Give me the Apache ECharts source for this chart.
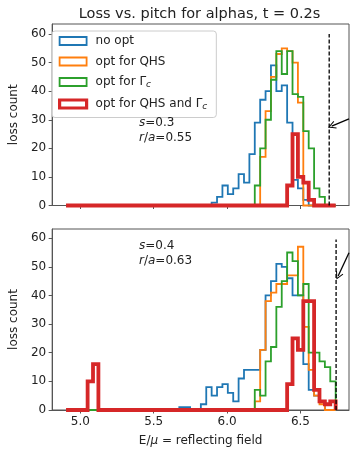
<!DOCTYPE html>
<html><head><meta charset="utf-8">
<script src="https://cdn.jsdelivr.net/npm/echarts@6/dist/echarts.min.js"></script>
<style>html,body{margin:0;padding:0;background:#fff}#c{width:350px;height:449px}</style>
</head><body><div id="c"></div>
<script>
// ---- data ----
const binStart = 4.9026;      // left edge of first histogram bin
const binWidth = 0.03675;     // histogram bin width (50 bins)
const xTicks = [5.0, 5.5, 6.0, 6.5];
const yTicks = [0, 10, 20, 30, 40, 50, 60];
const seriesNames = ['no opt', 'opt for QHS', 'opt for Γc', 'opt for QHS and Γc'];
const panelLabels = [['0.3', '0.55'], ['0.4', '0.63']];

// top panel (s=0.3) counts per bin
const blueTop   = [0,0,0,0,0,0,0,0,0,0, 0,0,0,0,0,0,0,0,0,0, 0,0,0,0,0,0,0,1,3,7, 4,6,11,8,18,29,37,40,49,40, 42,29,9,6,2,0,0,0,0,0];
const orangeTop = [0,0,0,0,0,0,0,0,0,0, 0,0,0,0,0,0,0,0,0,0, 0,0,0,0,0,0,0,0,0,0, 0,0,0,0,0,0,17,33,45,53, 55,54,50,36,0,0,0,0,0,0];
const greenTop  = [0,0,0,0,0,0,0,0,0,0, 0,0,0,0,0,0,0,0,0,0, 0,0,0,0,0,0,0,0,0,0, 0,0,0,0,0,7,20,30,44,54, 46,54,39,38,26,20,6,3,0,0];
const redTop    = [0,0,0,0,0,0,0,0,0,0, 0,0,0,0,0,0,0,0,0,0, 0,0,0,0,0,0,0,0,0,0, 0,0,0,0,0,0,0,0,0,0, 0,7,25,10,8,2,0,0,0,0];

// bottom panel (s=0.4) counts per bin
const blueBot   = [0,0,0,0,0,0,0,0,0,0, 0,0,0,0,0,0,0,0,0,0, 0,1,1,0,0,2,8,5,8,9, 6,3,11,14,14,14,21,40,45,51, 50,46,40,40,16,7,5,3,0,0];
const orangeBot = [0,0,0,0,0,0,0,0,0,0, 0,0,0,0,0,0,0,0,0,0, 0,0,0,0,0,0,0,0,0,0, 0,0,0,0,0,3,21,38,41,44, 44,47,47,57,29,14,5,2,0,0];
const greenBot  = [0,0,0,0,0,0,0,0,0,0, 0,0,0,0,0,0,0,0,0,0, 0,0,0,0,0,0,0,0,0,0, 0,0,0,0,0,7,5,17,22,36, 45,55,52,40,44,20,20,17,15,10];
const redBot    = [0,0,0,0,10,16,0,0,0,0, 0,0,0,0,0,0,0,0,0,0, 0,0,0,0,0,0,0,0,0,0, 0,0,0,0,0,0,0,0,0,0, 0,9,25,21,38,38,7,3,2,3];

// reflecting-field markers and annotation arrows (data coords)
const dashX = [6.696, 6.743];
const dashTop = [60, 59.5];
const arrowTop = [[6.831, 30.3], [6.713, 27.8]];
const arrowBot = [[6.831, 54.9], [6.757, 46.8]];

// ---- styling ----
const FONT = 'DejaVu Sans';
const colors = ['#1f77b4', '#ff7f0e', '#2ca02c', '#d62728'];
const widths = [1.8, 1.8, 1.8, 3.8];
const SPINE = '#555';
const TXT = '#222';
const xMin = 4.808, xMax = 6.831;

function stepPoints(counts) {
  const pts = [[binStart, 0]];
  counts.forEach((c, k) => {
    const x0 = binStart + k * binWidth;
    pts.push([x0, c], [x0 + binWidth, c]);
  });
  pts.push([binStart + counts.length * binWidth, 0]);
  return pts;
}

const chart = echarts.init(document.getElementById('c'), null, {renderer: 'canvas'});

const grids = [
  {left: 49, top: 24, width: 300, height: 181.5, show: true, borderColor: SPINE, borderWidth: 1, backgroundColor: 'transparent'},
  {left: 49, top: 229, width: 300, height: 181, show: true, borderColor: SPINE, borderWidth: 1, backgroundColor: 'transparent'}
];

function xAxis(i, labels) {
  return {
    type: 'value', gridIndex: i, min: xMin, max: xMax,
    axisLine: {show: true, onZero: false, lineStyle: {color: SPINE, width: 1}},
    axisTick: {show: true, length: 3.5, customValues: xTicks, lineStyle: {color: SPINE}},
    axisLabel: {show: labels, customValues: xTicks, formatter: v => v.toFixed(1), margin: 6,
                fontSize: 12, color: TXT, fontFamily: FONT},
    splitLine: {show: false},
    name: labels ? 'E/{i|μ} = reflecting field' : '',
    nameLocation: 'middle', nameGap: 25,
    nameTextStyle: {fontSize: 12, color: TXT, fontFamily: FONT,
                    rich: {i: {fontStyle: 'italic', fontSize: 12, color: TXT, fontFamily: FONT}}}
  };
}
function yAxis(i, max) {
  return {
    type: 'value', gridIndex: i, min: 0, max: max,
    axisLine: {show: true, lineStyle: {color: SPINE, width: 1}},
    axisTick: {show: true, length: 3.5, customValues: yTicks, lineStyle: {color: SPINE}},
    axisLabel: {customValues: yTicks, margin: 6, fontSize: 12, color: TXT, fontFamily: FONT},
    splitLine: {show: false},
    name: 'loss count', nameLocation: 'middle', nameRotate: 90, nameGap: 28,
    nameTextStyle: {fontSize: 12, color: TXT, fontFamily: FONT}
  };
}

const panels = [[blueTop, orangeTop, greenTop, redTop], [blueBot, orangeBot, greenBot, redBot]];
const series = [];
panels.forEach((set, p) => {
  set.forEach((counts, s) => {
    series.push({
      type: 'line', name: seriesNames[s], xAxisIndex: p, yAxisIndex: p,
      data: stepPoints(counts), showSymbol: false, symbol: 'none', clip: false,
      lineStyle: {color: colors[s], width: widths[s], join: 'miter'},
      itemStyle: {color: colors[s]}, z: 2 + s, silent: true, animation: false
    });
  });
  series.push({
    type: 'line', xAxisIndex: p, yAxisIndex: p,
    data: [[dashX[p], 0], [dashX[p], dashTop[p]]], showSymbol: false, symbol: 'none', clip: false,
    lineStyle: {color: '#000', width: 1.3, type: [4, 2]}, z: 8, silent: true, animation: false
  });
});
const chevron = 'path://M0,10 L5,0 L10,10 L8.9,10.6 L5,2.6 L1.1,10.6 Z';
[arrowTop, arrowBot].forEach((a, p) => {
  series.push({
    type: 'lines', coordinateSystem: 'cartesian2d', xAxisIndex: p, yAxisIndex: p,
    data: [{coords: a}], symbol: ['none', chevron], symbolSize: [9, 8],
    lineStyle: {color: '#000', width: 1.3, opacity: 1, curveness: 0},
    itemStyle: {color: '#000'}, z: 9, silent: true, animation: false
  });
});

const legendRich = {
  t: {fontSize: 12, color: TXT, fontFamily: FONT, lineHeight: 15, padding: [0, 0, 0, 4]},
  s: {fontSize: 9, color: TXT, fontFamily: FONT, fontStyle: 'italic', verticalAlign: 'bottom', lineHeight: 11}
};
function legendLabel(name) {
  if (name.endsWith('Γc')) return '{t|' + name.slice(0, -1) + '}{s|c}';
  return '{t|' + name + '}';
}

function panelText(p) {
  return '{i|s}=' + panelLabels[p][0] + '\n{i|r}/{i|a}=' + panelLabels[p][1];
}
const panelTextStyle = {fontSize: 12, fontWeight: 'normal', color: TXT, fontFamily: FONT, lineHeight: 15.5,
  rich: {i: {fontStyle: 'italic', fontSize: 12, color: TXT, fontFamily: FONT, lineHeight: 15.5}}};

chart.setOption({
  animation: false,
  backgroundColor: '#fff',
  title: [
    {text: 'Loss vs. pitch for alphas, t = 0.2s', left: 199.5, top: 7, textAlign: 'center', padding: 0,
     textStyle: {fontSize: 14.5, fontWeight: 'normal', color: TXT, fontFamily: FONT}},
    {text: panelText(0), left: 139, top: 115, padding: 0, textStyle: panelTextStyle},
    {text: panelText(1), left: 139, top: 238, padding: 0, textStyle: panelTextStyle}
  ],
  legend: {
    orient: 'vertical', left: 52, top: 31, padding: [4, 9, 6, 6],
    itemWidth: 27, itemHeight: 8, itemGap: 8.5, selectedMode: false,
    backgroundColor: 'rgba(255,255,255,0.8)', borderColor: '#ccc', borderWidth: 1, borderRadius: 3,
    textStyle: {fontSize: 12, color: TXT, fontFamily: FONT, rich: legendRich},
    formatter: legendLabel,
    data: seriesNames.map((n, i) => ({
      name: n, icon: 'rect',
      itemStyle: {color: 'rgba(0,0,0,0)', borderColor: colors[i], borderWidth: i === 3 ? 3.2 : 1.8}
    }))
  },
  grid: grids,
  xAxis: [xAxis(0, false), xAxis(1, true)],
  yAxis: [yAxis(0, 63.5), yAxis(1, 63.2)],
  series: series
});
</script></body></html>
